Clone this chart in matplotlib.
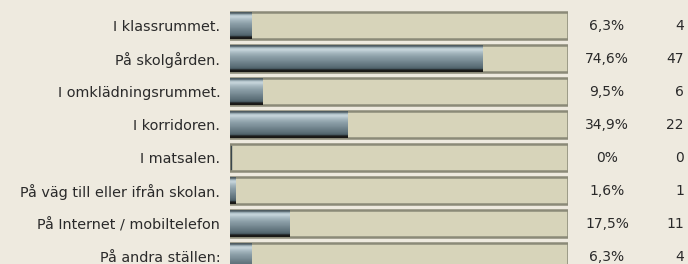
import numpy as np
import matplotlib
matplotlib.use("Agg")
import matplotlib.pyplot as plt
from matplotlib.colors import LinearSegmentedColormap

categories = ["I klassrummet.", "På skolgården.", "I omklädningsrummet.", "I korridoren.",
              "I matsalen.", "På väg till eller ifrån skolan.", "På Internet / mobiltelefon",
              "På andra ställen:"]
percents = [6.3, 74.6, 9.5, 34.9, 0.0, 1.6, 17.5, 6.3]
pct_labels = ["6,3%", "74,6%", "9,5%", "34,9%", "0%", "1,6%", "17,5%", "6,3%"]
counts = [4, 47, 6, 22, 0, 1, 11, 4]

W, H = 688, 264
bg = "#eeeadf"
fig = plt.figure(figsize=(W / 100, H / 100), dpi=100, facecolor=bg)
ax = fig.add_axes([230 / W, 0, 338 / W, 1])
ax.set_facecolor(bg)

n = len(categories)
ypos = np.arange(n)
h = 27 / 33

# tracks
ax.barh(ypos, [100] * n, height=h, left=0, color="#d7d4ba", edgecolor="#8b8a78",
        linewidth=1.8, zorder=1)

# gradient for filled bars (top -> bottom)
grad_colors = ["#4e5c62", "#66767d", "#9aacb4", "#b9c9d0", "#c4d3d9", "#bfced5",
               "#b4c5cc", "#aabbc3", "#a1b3bb", "#9aacb4", "#93a6ae", "#8da0a9",
               "#889ba4", "#83969f", "#7e919a", "#798c95", "#748790", "#6f828b",
               "#6a7d86", "#657881", "#60737c", "#5b6e77", "#556870", "#4a5b63",
               "#2c3336", "#1c1c1a", "#181715"]
cmap = LinearSegmentedColormap.from_list("g", grad_colors, N=256)
grad = np.linspace(0, 1, 27).reshape(-1, 1)
for y, p in zip(ypos, percents):
    if p > 0:
        ax.imshow(grad, cmap=cmap, aspect="auto", origin="upper",
                  extent=(0, p, y + h / 2, y - h / 2), interpolation="nearest", zorder=2)
    else:
        ax.plot([0.3, 0.3], [y - h / 2 + 0.05, y + h / 2 - 0.05], color="#3a474d", lw=1, zorder=2)

ax.set_xlim(0, 100)
ax.set_ylim(7.227, -0.773)
ax.set_yticks(ypos)
ax.set_yticklabels(categories, fontsize=10.4, color="#2a2a2a", family="DejaVu Sans")
ax.tick_params(axis="y", length=0, pad=7)
ax.set_xticks([])
for s in ax.spines.values():
    s.set_visible(False)

tr = ax.get_yaxis_transform()
for y, pl, c in zip(ypos, pct_labels, counts):
    ax.text((607 - 230) / 338, y, pl, transform=tr, ha="center", va="center",
            fontsize=10.0, color="#2a2a2a")
    ax.text((684 - 230) / 338, y, str(c), transform=tr, ha="right", va="center",
            fontsize=10.0, color="#2a2a2a")

fig.savefig("out.png", dpi=100, facecolor=bg)
